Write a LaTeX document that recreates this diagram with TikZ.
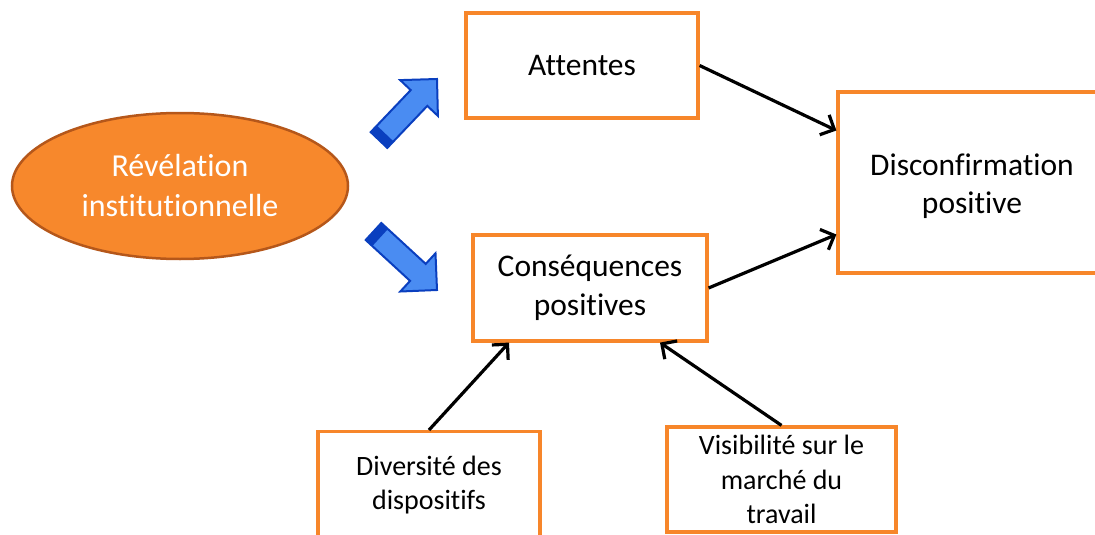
\documentclass[tikz,border=0pt]{standalone}
\usepackage{fontspec}
\setmainfont{Carlito}[RawFeature={-liga;-clig;-dlig;-rlig;-calt;-hlig}]
\usetikzlibrary{arrows.meta,shapes.geometric,calc}
\definecolor{boxorange}{HTML}{F7862A}
\definecolor{ellfill}{HTML}{F7882C}
\definecolor{ellline}{HTML}{B5571A}
\definecolor{arrfill}{HTML}{4A8CF2}
\definecolor{arrline}{HTML}{0A3FBF}
\tikzset{
  box/.style={draw=boxorange, line width=3.2pt, fill=white, inner sep=0pt, align=center, text=black},
  bigtext/.style={font=\fontsize{31.5}{38.5}\selectfont},
  smalltext/.style={font=\fontsize{28}{34.5}\selectfont},
  conn/.style={draw=black, line width=3.2pt, -{Straight Barb[length=11pt,width=22pt,line width=3.2pt]}},
  blockarrow/.style={draw=arrline, fill=arrfill, line width=2pt, line join=miter},
  arrowband/.style={fill=arrline}
}
\begin{document}
\begin{tikzpicture}[x=1pt,y=-1pt]
\path[use as bounding box] (0,0) rectangle (1095,535);
\node[shape=ellipse, draw=ellline, line width=2.5pt, fill=ellfill, minimum width=336pt, minimum height=146pt,
  inner sep=0pt, align=center, text=white, font=\fontsize{32}{40}\selectfont] (rev) at (180,186) {Révélation\\institutionnelle};
\node[box, bigtext, minimum width=232pt, minimum height=105pt] (att) at (582,65.5) {Attentes};
\node[box, bigtext, minimum width=234pt, minimum height=106pt] (cons) at (590,288) {Conséquences\\positives};
\node[box, minimum width=270pt, minimum height=181pt] (disc) at (973,182.5) {};
\node[bigtext, align=center] (disct) at (972,186) {Disconfirmation\\positive};
\node[box, minimum width=222pt, minimum height=130pt, anchor=north] (div) at (429,430) {};
\node[smalltext, align=center] (divt) at (429,485) {Diversité des\\dispositifs};
\node[box, smalltext, minimum width=229pt, minimum height=105pt] (vis) at (781.5,479.5) {Visibilité sur le\\marché du\\travail};
% blue block arrows
\filldraw[blockarrow] (370.7,132.1) -- (410.7,90.1) -- (400.2,80.1) -- (437,79) -- (437.9,115.9) -- (427.3,105.9) -- (387.3,147.9) -- cycle;
\fill[arrowband] (370.7,132.1) -- (376.9,125.6) -- (393.5,141.4) -- (387.3,147.9) -- cycle;
\filldraw[blockarrow] (381.3,223) -- (425.7,263.9) -- (435.5,253.3) -- (437,290) -- (400.3,291.5) -- (410.1,280.9) -- (365.7,240) -- cycle;
\fill[arrowband] (365.7,240) -- (372.3,246.1) -- (387.9,229.1) -- (381.3,223) -- cycle;
% connectors
\draw[conn] (att.east) -- ([yshift=52pt]disc.west);
\draw[conn] (cons.east) -- ([yshift=-52pt]disc.west);
\draw[conn] (div.north) -- ([xshift=-81pt]cons.south);
\draw[conn] (vis.north) -- ([xshift=70pt]cons.south);
\end{tikzpicture}
\end{document}
